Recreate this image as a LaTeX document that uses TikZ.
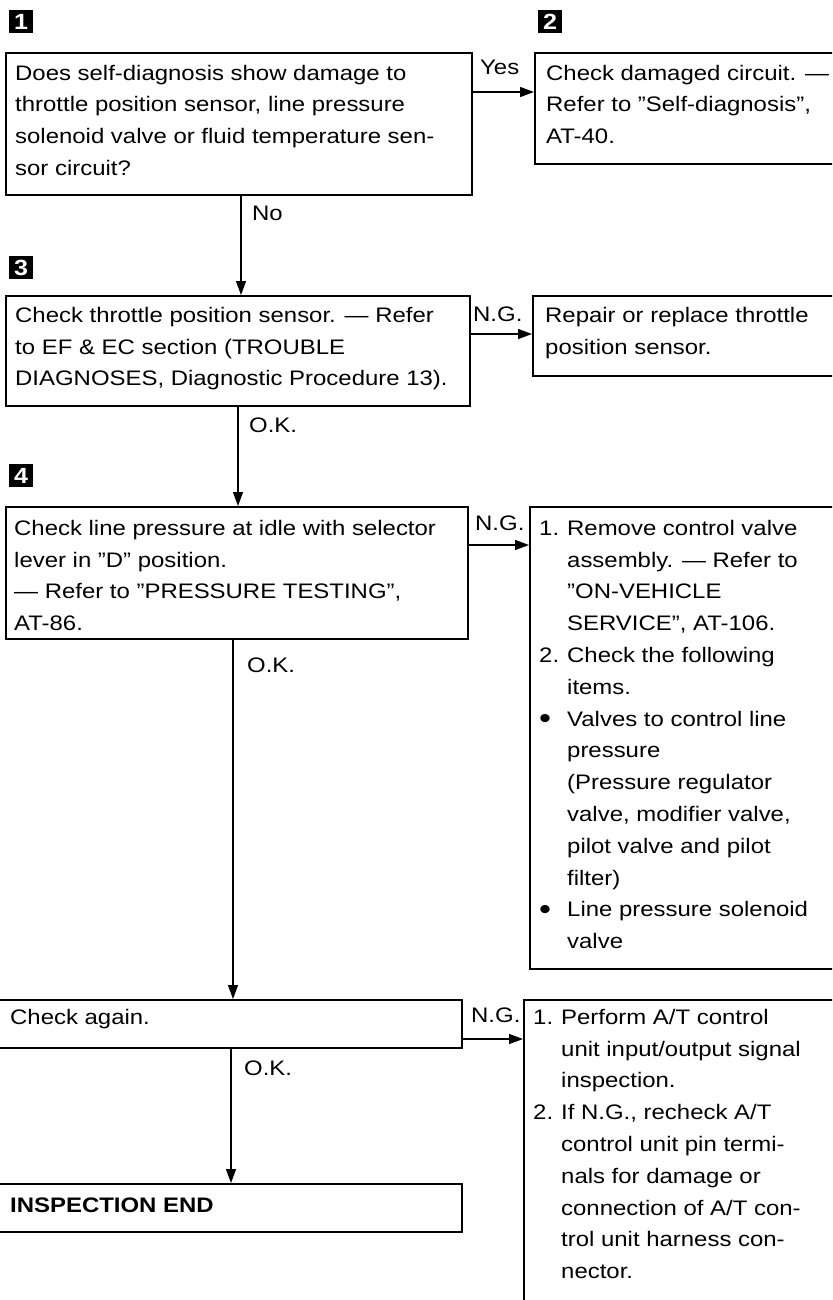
\documentclass[tikz,border=0pt]{standalone}
\usepackage{fontspec}
\setmainfont{Liberation Sans}[FakeStretch=1.14]
\usetikzlibrary{arrows.meta,calc}
\newcommand\numitem[1]{\makebox[28pt][l]{#1}}
\newcommand\indentline{\hspace*{28pt}}
\newcommand\firstline{\rule{0pt}{16pt}}
\newcommand\bigbullet{\raisebox{-2.5pt}{\fontsize{30}{30}\selectfont\textbullet}}
\begin{document}
\begin{tikzpicture}[x=1pt,y=-1pt,
  box/.style={draw, line width=1.6pt, rectangle, inner sep=0pt, anchor=north west},
  txt/.style={anchor=north west, inner sep=0pt, align=left, font=\fontsize{21}{31.8}\selectfont},
  lbl/.style={anchor=base west, inner sep=0pt, font=\fontsize{21}{25}\selectfont},
  num/.style={fill=black, text=white, font=\fontsize{22}{22}\selectfont\bfseries, minimum width=24pt, minimum height=23pt, inner sep=0pt, anchor=north west},
  arr/.style={line width=1.3pt, -{Triangle[length=14pt,width=10pt]}}]
\useasboundingbox (0,0) rectangle (832,1300);
\fill[white] (0,0) rectangle (832,1300);
\clip (0,0) rectangle (832,1300);

% step labels
\node[num] (n1) at (9,10) {1};
\node[num] (n2) at (538,10) {2};
\node[num] (n3) at (9,256) {3};
\node[num] (n4) at (9,464) {4};

% boxes
\node[box, minimum width=466pt, minimum height=142pt] (b1) at (5,52) {};
\node[box, minimum width=330pt, minimum height=111pt] (b2) at (534,52) {};
\node[box, minimum width=464pt, minimum height=110pt] (b3) at (5,295) {};
\node[box, minimum width=330pt, minimum height=80pt] (b3r) at (532,295) {};
\node[box, minimum width=462pt, minimum height=132pt] (b4) at (5,506) {};
\node[box, minimum width=330pt, minimum height=462pt] (b4r) at (529,506) {};
\node[box, minimum width=463pt, minimum height=48pt] (b5) at (-2,999) {};
\node[box, minimum width=330pt, minimum height=400pt] (b5r) at (523,999) {};
\node[box, minimum width=463pt, minimum height=48pt] (b6) at (-2,1183) {};

% texts
\node[txt] (t1) at (15,64) {\firstline Does self-diagnosis show damage to\\
throttle position sensor, line pressure\\
solenoid valve or fluid temperature sen-\\
sor circuit?};
\node[txt] (t2) at (546,64) {\firstline Check damaged circuit. ---\\
Refer to ''Self-diagnosis'',\\
AT-40.};
\node[txt] (t3) at (15,306) {\firstline Check throttle position sensor. --- Refer\\
to EF \& EC section (TROUBLE\\
DIAGNOSES, Diagnostic Procedure 13).};
\node[txt] (t3r) at (545,306) {\firstline Repair or replace throttle\\
position sensor.};
\node[txt] (t4) at (14,519) {\firstline Check line pressure at idle with selector\\
lever in ''D'' position.\\
--- Refer to ''PRESSURE TESTING'',\\
AT-86.};
\node[txt] (t4r) at (539,519) {\firstline\numitem{1.}Remove control valve\\
\indentline assembly. --- Refer to\\
\indentline ''ON-VEHICLE\\
\indentline SERVICE'', AT-106.\\
\numitem{2.}Check the following\\
\indentline items.\\
\numitem{\bigbullet}Valves to control line\\
\indentline pressure\\
\indentline (Pressure regulator\\
\indentline valve, modifier valve,\\
\indentline pilot valve and pilot\\
\indentline filter)\\
\numitem{\bigbullet}Line pressure solenoid\\
\indentline valve};
\node[txt] (t5) at (10,1008) {\firstline Check again.};
\node[txt] (t5r) at (533,1008) {\firstline\numitem{1.}Perform A/T control\\
\indentline unit input/output signal\\
\indentline inspection.\\
\numitem{2.}If N.G., recheck A/T\\
\indentline control unit pin termi-\\
\indentline nals for damage or\\
\indentline connection of A/T con-\\
\indentline trol unit harness con-\\
\indentline nector.};
\node[txt, font=\fontsize{21}{31.8}\selectfont\bfseries] (t6) at (10,1196) {\firstline INSPECTION END};

% connector guides
\coordinate (ya) at (0,92);
\coordinate (xa) at (241,0);
\coordinate (yb) at (0,334);
\coordinate (xb) at (238,0);
\coordinate (yc) at (0,545);
\coordinate (xc) at (233,0);
\coordinate (yd) at (0,1039);
\coordinate (xd) at (231,0);

% connectors
\draw[arr] (b1.east |- ya) -- (b2.west |- ya);
\draw[arr] (b1.south -| xa) -- (b3.north -| xa);
\draw[arr] (b3.east |- yb) -- (b3r.west |- yb);
\draw[arr] (b3.south -| xb) -- (b4.north -| xb);
\draw[arr] (b4.east |- yc) -- (b4r.west |- yc);
\draw[arr] (b4.south -| xc) -- (b5.north -| xc);
\draw[arr] (b5.east |- yd) -- (b5r.west |- yd);
\draw[arr] (b5.south -| xd) -- (b6.north -| xd);

% connector labels
\node[lbl] (lyes) at (480,75) {Yes};
\node[lbl] (lno) at (252,220) {No};
\node[lbl] (lng1) at (473,321) {N.G.};
\node[lbl] (lok1) at (249,432) {O.K.};
\node[lbl] (lng2) at (475,530) {N.G.};
\node[lbl] (lok2) at (247,672) {O.K.};
\node[lbl] (lng3) at (471,1022) {N.G.};
\node[lbl] (lok3) at (244,1075) {O.K.};
\end{tikzpicture}
\end{document}
